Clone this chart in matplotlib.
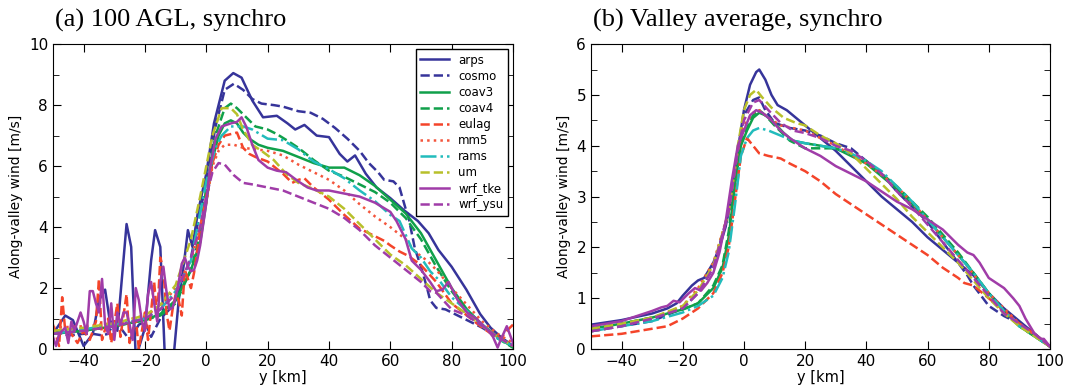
import numpy as np
import matplotlib.pyplot as plt
from matplotlib.ticker import MultipleLocator

models = ['arps', 'cosmo', 'coav3', 'coav4', 'eulag', 'mm5', 'rams', 'um', 'wrf_tke', 'wrf_ysu']
colors = ['#36349a', '#36349a', '#10a04a', '#10a04a', '#f4442a', '#f4553c',
          '#22bcbc', '#b8c02a', '#a03ca8', '#a03ca8']
styles = ['-', '--', '-', '--', '--', ':', '-.', '--', '-', '--']

# panel (a): 100 m AGL
a_x = {
    'arps': [-50, -46, -43.5, -40, -37, -35, -33, -31.5, -29, -26, -24.5, -23, -20, -18, -16.7, -15, -13.5,
             -10.7, -9, -7.3, -6, -4.5, -2.8, 0, 2.5, 6, 8.8, 11.5, 15, 18.5, 23, 26.5, 29, 32, 36, 40, 43.5,
             46, 48.5, 52, 55.5, 60, 64.5, 69, 72.5, 75.7, 80, 84.8, 89.3, 92.7, 96, 100],
    'cosmo': [-50, -45, -40, -37, -34, -32, -30, -28, -25, -22, -20, -18, -15, -12, -10, -5, 0, 3, 6, 9, 12,
              15, 18, 22, 25, 30, 34, 38, 42, 46, 50, 53, 56, 58, 61, 63, 65, 66, 68, 70, 72, 73, 75, 78, 82,
              86, 90, 94, 97, 100],
    'coav3': [-50, -40, -30, -20, -15, -10, -5, -2, 0, 2, 4, 6, 8, 10, 12, 14, 17, 20, 25, 30, 35, 40, 45, 50,
              55, 60, 65, 70, 75, 80, 85, 90, 95, 100],
    'coav4': [-50, -40, -30, -20, -15, -10, -5, -2, 0, 3, 6, 8, 10, 13, 16, 20, 23, 27, 30, 35, 40, 45, 50, 55,
              60, 65, 70, 75, 80, 85, 90, 95, 100],
    'eulag': [-50, -48, -47, -46, -44, -42, -40, -38, -36, -35, -34, -32, -31, -29, -28, -26, -25, -23, -22,
              -20, -19, -17, -16, -15, -14, -13, -12, -11, -10, -9, -8, -7, -6, -5, -4, -3, -2, 0, 2, 4, 6, 8,
              10, 12, 14, 16, 20, 25, 28, 30, 32, 35, 40, 45, 50, 55, 58, 60, 63, 66, 70, 75, 80, 85, 90, 93,
              96, 98, 100],
    'mm5': [-50, -40, -30, -20, -15, -10, -5, 0, 2, 4, 6, 9, 12, 16, 20, 25, 30, 35, 40, 45, 50, 55, 60, 65,
            68, 72, 75, 80, 85, 90, 95, 100],
    'rams': [-50, -40, -30, -20, -15, -10, -5, 0, 3, 5, 8, 12, 15, 20, 25, 30, 35, 40, 45, 50, 55, 60, 63, 67,
             70, 73, 76, 80, 85, 90, 95, 100],
    'um': [-50, -40, -30, -20, -15, -10, -5, -2, 0, 2, 5, 8, 10, 12, 15, 18, 22, 26, 30, 35, 40, 45, 50, 55,
           60, 65, 70, 75, 80, 85, 90, 95, 100],
    'wrf_tke': [-50, -49, -48, -46, -45, -44, -43, -41, -40, -39, -38, -37, -36, -35, -34, -33, -32, -31, -30,
                -29, -28, -27, -26, -25, -24, -23, -22, -21, -20, -19, -18, -17, -16, -15, -14, -13, -12, -11,
                -10, -9, -8, -7, -6, -5, -4, -3, -2, 0, 1, 3, 5, 8, 10, 11.5, 13, 15, 17, 20, 23, 26, 30, 33,
                36, 40, 45, 50, 55, 60, 62, 65, 67, 70, 73, 75, 77, 79, 80, 82, 85, 88, 90, 92, 93.5, 95, 96,
                98, 100],
    'wrf_ysu': [-50, -40, -30, -20, -15, -10, -5, -2, 0, 2, 4, 6, 9, 12, 15, 20, 25, 30, 35, 40, 45, 50, 55,
                60, 65, 70, 73, 75, 80, 85, 90, 95, 100],
}
a_y = {
    'arps': [0.5, 1.1, 0.95, 0.1, 0.5, 1.6, 1.95, 0.95, 0.6, 4.1, 3.35, -0.3, 0.7, 2.9, 3.9, 3.35, -0.3,
             -0.3, 1.6, 2.8, 3.9, 3.35, 4.45, 5.75, 7.4, 8.8, 9.05, 8.9, 8.15, 7.6, 7.65, 7.4, 7.2, 7.35, 7.0,
             6.95, 6.4, 6.15, 6.35, 5.75, 5.3, 4.95, 4.55, 4.2, 3.8, 3.25, 2.7, 1.95, 1.15, 0.7, 0.4, 0.1],
    'cosmo': [0.6, 0.45, 0.5, 0.5, 0.45, 0.5, 0.9, 0.7, 0.3, 0.8, 0.9, 0.4, 1.0, 1.3, 1.6, 3.0, 5.5, 7.3,
              8.5, 8.7, 8.5, 8.2, 8.05, 8.0, 7.95, 7.8, 7.75, 7.55, 7.25, 6.9, 6.5, 6.1, 5.8, 5.55, 5.5, 5.3,
              4.6, 4.3, 3.3, 2.7, 2.0, 1.6, 1.35, 1.3, 1.1, 0.9, 0.7, 0.45, 0.3, 0.1],
    'coav3': [0.5, 0.6, 0.75, 0.95, 1.15, 1.6, 2.6, 3.5, 4.8, 6.2, 7.0, 7.4, 7.5, 7.4, 7.1, 6.9, 6.7, 6.6,
              6.5, 6.3, 6.1, 5.95, 5.95, 5.7, 5.35, 4.9, 4.45, 3.8, 2.9, 2.0, 1.3, 0.8, 0.4, 0.05],
    'coav4': [0.5, 0.6, 0.75, 0.95, 1.1, 1.5, 2.6, 3.8, 5.3, 7.0, 7.9, 8.05, 7.9, 7.6, 7.3, 7.2, 7.05, 6.8,
              6.6, 6.2, 5.85, 5.65, 5.4, 5.15, 4.8, 4.3, 3.6, 2.7, 1.9, 1.25, 0.75, 0.35, 0.05],
    'eulag': [0.8, 0.1, 1.7, 0.6, 0.5, 0.2, 0.6, 0.3, 0.9, 2.3, 0.3, 1.0, 0.2, 1.5, 0.4, 1.8, 0.2, 1.0, 0.0,
              1.2, 0.3, 2.2, 1.0, 3.0, 2.6, 1.2, 0.6, 1.3, 1.8, 1.6, 1.1, 2.6, 2.3, 2.0, 2.5, 3.2, 4.0, 5.0,
              6.1, 6.7, 7.0, 7.05, 7.1, 6.6, 6.4, 6.3, 6.15, 5.75, 5.45, 5.55, 5.6, 5.3, 4.9, 4.4, 3.95, 3.7,
              3.55, 3.4, 3.2, 3.05, 2.75, 2.2, 1.5, 1.1, 0.7, 0.5, 0.35, 0.6, 0.8],
    'mm5': [0.7, 0.75, 0.85, 1.1, 1.4, 2.0, 2.9, 4.8, 6.0, 6.5, 6.7, 6.7, 6.6, 6.55, 6.5, 6.35, 6.05, 5.8,
            5.55, 5.2, 4.75, 4.35, 4.0, 3.6, 3.2, 2.9, 2.6, 2.0, 1.45, 0.9, 0.5, 0.2],
    'rams': [0.5, 0.65, 0.8, 1.0, 1.3, 1.9, 2.9, 5.5, 6.6, 7.0, 7.3, 7.3, 7.2, 6.9, 6.85, 6.55, 6.15, 5.9,
             5.6, 5.2, 4.85, 4.4, 4.2, 3.3, 3.0, 2.55, 2.25, 1.7, 1.25, 0.8, 0.35, 0.1],
    'um': [0.6, 0.7, 0.85, 1.1, 1.45, 2.1, 3.6, 5.0, 6.0, 7.0, 7.9, 7.9, 7.7, 7.2, 6.7, 6.5, 6.2, 5.75, 5.45,
           5.25, 5.0, 4.6, 4.1, 3.6, 3.1, 2.75, 2.3, 1.85, 1.5, 1.15, 0.75, 0.4, 0.1],
    'wrf_tke': [0.4, 0.1, 0.5, 0.7, 0.2, 0.9, 0.6, 1.2, 0.9, 0.5, 1.9, 1.9, 1.5, 1.2, 2.3, 0.8, 0.5, 1.5, 0.3,
                1.2, 0.8, 1.2, 1.2, 0.8, 0.3, 2.0, 1.6, 0.9, 0.6, 1.8, 2.2, 1.5, 0.9, 2.2, 2.7, 1.9, 1.3,
                1.35, 1.7, 2.2, 2.8, 3.0, 2.7, 2.55, 2.6, 2.9, 3.4, 4.8, 5.8, 6.9, 7.3, 7.4, 7.45, 7.6, 7.3,
                6.7, 6.2, 5.95, 5.85, 5.8, 5.5, 5.3, 5.2, 5.2, 5.1, 5.0, 4.8, 4.5, 4.2, 3.6, 2.9, 2.6, 2.2,
                1.9, 1.95, 2.2, 2.0, 1.6, 1.2, 1.0, 0.8, 0.6, 0.4, 0.05, 0.3, 0.75, 0.2],
    'wrf_ysu': [0.5, 0.6, 0.75, 1.0, 1.3, 1.8, 3.0, 4.0, 5.0, 5.8, 6.1, 6.05, 5.7, 5.45, 5.4, 5.3, 5.2, 5.0,
                4.8, 4.6, 4.3, 3.9, 3.4, 3.0, 2.6, 2.2, 1.9, 1.85, 1.3, 1.1, 0.75, 0.4, 0.1],
}

# panel (b): valley average
b_x = {
    'arps': [-50, -40, -30, -25, -22, -20, -17, -15, -13, -10, -8, -6, -4, -2, 0, 2, 4, 5, 7, 9, 11, 14, 17,
             20, 25, 30, 35, 40, 45, 50, 55, 60, 65, 70, 75, 80, 85, 90, 95, 100],
    'cosmo': [-50, -40, -30, -20, -15, -10, -5, -2, 0, 3, 5, 7, 10, 15, 20, 25, 30, 35, 40, 45, 50, 55, 60,
              65, 70, 73, 75, 80, 85, 90, 95, 100],
    'coav3': [-50, -40, -30, -20, -15, -10, -7, -5, -3, -1, 1, 3, 5, 7, 10, 13, 16, 20, 25, 30, 35, 40, 45,
              50, 55, 60, 65, 70, 75, 80, 85, 90, 95, 100],
    'coav4': [-50, -40, -30, -20, -15, -10, -7, -5, -3, -1, 1, 3, 5, 7, 10, 15, 20, 30, 40, 50, 60, 70, 75,
              80, 85, 90, 95, 100],
    'eulag': [-50, -40, -30, -25, -20, -15, -10, -7, -5, -3, -1, 1, 3, 5, 8, 12, 15, 20, 25, 30, 35, 40, 45,
              50, 55, 60, 65, 70, 72, 75, 80, 85, 90, 95, 100],
    'mm5': [-50, -40, -30, -20, -15, -10, -5, -2, 0, 3, 5, 8, 12, 20, 30, 40, 50, 60, 70, 80, 90, 100],
    'rams': [-50, -40, -30, -20, -15, -10, -7, -5, -3, -1, 1, 3, 5, 8, 12, 16, 20, 25, 30, 35, 40, 45, 50,
             55, 60, 65, 70, 75, 80, 85, 90, 95, 100],
    'um': [-50, -40, -30, -20, -15, -10, -5, -2, 0, 2, 4, 6, 9, 13, 17, 20, 25, 30, 35, 40, 45, 50, 55, 60,
           65, 70, 75, 80, 85, 90, 95, 100],
    'wrf_tke': [-50, -40, -35, -30, -27, -25, -23, -21, -18, -16, -14, -12, -10, -8, -6, -4, -2, 0, 2, 4, 6,
                9, 12, 15, 20, 25, 30, 35, 40, 45, 50, 55, 60, 65, 70, 73, 75, 77, 80, 85, 88, 90, 92, 95, 97,
                98, 100],
    'wrf_ysu': [-50, -40, -30, -20, -15, -10, -5, -2, 0, 3, 5, 8, 12, 16, 20, 25, 30, 35, 40, 45, 50, 55, 60,
                65, 70, 75, 80, 85, 90, 95, 100],
}
b_y = {
    'arps': [0.48, 0.57, 0.7, 0.8, 0.9, 1.05, 1.25, 1.35, 1.4, 1.7, 2.0, 2.4, 3.0, 3.9, 4.7, 5.2, 5.45, 5.5,
             5.3, 5.0, 4.8, 4.7, 4.55, 4.4, 4.15, 3.9, 3.6, 3.3, 3.0, 2.75, 2.5, 2.2, 1.95, 1.7, 1.45, 1.1,
             0.8, 0.55, 0.3, 0.05],
    'cosmo': [0.35, 0.45, 0.55, 0.8, 1.1, 1.6, 2.7, 3.9, 4.6, 4.9, 4.95, 4.7, 4.45, 4.35, 4.3, 4.2, 4.05,
              3.95, 3.7, 3.45, 3.1, 2.8, 2.5, 2.1, 1.7, 1.45, 1.25, 0.85, 0.65, 0.5, 0.3, 0.05],
    'coav3': [0.4, 0.5, 0.62, 0.78, 0.9, 1.2, 1.6, 2.2, 3.2, 4.0, 4.3, 4.55, 4.65, 4.6, 4.45, 4.25, 4.1,
              4.05, 4.0, 3.95, 3.8, 3.65, 3.4, 3.15, 2.85, 2.55, 2.2, 1.85, 1.5, 1.1, 0.75, 0.45, 0.25, 0.05],
    'coav4': [0.4, 0.5, 0.62, 0.78, 0.9, 1.25, 1.65, 2.3, 3.3, 4.05, 4.35, 4.6, 4.7, 4.6, 4.4, 4.1, 3.95,
              3.95, 3.7, 3.2, 2.6, 1.9, 1.5, 1.1, 0.75, 0.45, 0.25, 0.05],
    'eulag': [0.25, 0.3, 0.4, 0.45, 0.6, 0.8, 1.1, 1.5, 2.0, 2.9, 3.8, 4.15, 4.0, 3.85, 3.8, 3.75, 3.65, 3.5,
              3.3, 3.05, 2.85, 2.65, 2.45, 2.25, 2.05, 1.85, 1.6, 1.4, 1.3, 1.25, 1.0, 0.75, 0.5, 0.3, 0.05],
    'mm5': [0.35, 0.45, 0.6, 0.85, 1.2, 1.7, 2.7, 3.9, 4.4, 4.65, 4.7, 4.55, 4.4, 4.3, 4.0, 3.65, 3.2, 2.55,
            1.85, 1.1, 0.5, 0.05],
    'rams': [0.35, 0.45, 0.55, 0.72, 0.85, 1.05, 1.4, 1.9, 2.8, 3.8, 4.15, 4.3, 4.35, 4.3, 4.2, 4.1, 4.05,
             4.0, 3.95, 3.85, 3.7, 3.5, 3.2, 2.9, 2.55, 2.2, 1.85, 1.5, 1.1, 0.75, 0.45, 0.25, 0.05],
    'um': [0.4, 0.5, 0.62, 0.85, 1.15, 1.65, 2.7, 4.0, 4.7, 5.0, 5.1, 4.95, 4.75, 4.55, 4.45, 4.4, 4.2, 4.05,
           3.85, 3.55, 3.25, 2.95, 2.6, 2.3, 2.0, 1.7, 1.35, 1.0, 0.7, 0.45, 0.25, 0.05],
    'wrf_tke': [0.45, 0.55, 0.65, 0.75, 0.82, 0.85, 0.95, 0.92, 1.1, 1.2, 1.15, 1.3, 1.5, 1.9, 2.5, 3.3, 4.0,
                4.3, 4.6, 4.7, 4.65, 4.5, 4.3, 4.15, 3.95, 3.8, 3.6, 3.45, 3.3, 3.1, 2.9, 2.75, 2.55, 2.35,
                2.05, 1.9, 1.85, 1.7, 1.4, 1.2, 1.0, 0.85, 0.6, 0.3, 0.2, 0.2, 0.05],
    'wrf_ysu': [0.35, 0.45, 0.6, 0.8, 1.1, 1.6, 2.7, 3.9, 4.5, 4.85, 4.9, 4.7, 4.45, 4.3, 4.25, 4.15, 4.0,
                3.9, 3.7, 3.45, 3.1, 2.8, 2.45, 2.1, 1.75, 1.4, 1.05, 0.7, 0.5, 0.3, 0.05],
}

titles = ['(a) 100 AGL, synchro', '(b) Valley average, synchro']

fig = plt.figure(figsize=(10.68, 3.87), dpi=100)
ax1 = fig.add_axes([0.0496, 0.098, 0.4307, 0.788])
ax2 = fig.add_axes([0.5533, 0.098, 0.4298, 0.788])

for ax, xs, ys, ymax, ystep, title in [(ax1, a_x, a_y, 10, 1, titles[0]), (ax2, b_x, b_y, 6, 0.5, titles[1])]:
    for m, c, ls in zip(models, colors, styles):
        ax.plot(xs[m], ys[m], color=c, linestyle=ls, lw=1.8, label=m)
    ax.set_xlim(-50, 100)
    ax.set_ylim(0, ymax)
    ax.xaxis.set_major_locator(MultipleLocator(20))
    ax.yaxis.set_minor_locator(MultipleLocator(ystep))
    ax.tick_params(direction='in', top=True, right=True, which='both', labelsize=11)
    ax.tick_params(which='major', length=6)
    ax.tick_params(which='minor', length=4)
    ax.set_xlabel('y [km]', fontsize=10.5, labelpad=1)
    ax.set_ylabel('Along-valley wind [m/s]', fontsize=10)
    ax.text(0.005, 1.04, title, transform=ax.transAxes, fontsize=19, family='Liberation Serif', va='bottom')

ax2.yaxis.set_major_locator(MultipleLocator(1))
ax1.yaxis.set_major_locator(MultipleLocator(2))

leg = ax1.legend(loc='upper right', fontsize=8.5, handlelength=2.4, framealpha=1, fancybox=False,
                 edgecolor='black', labelspacing=0.26, borderaxespad=0.4)
leg.get_frame().set_linewidth(1.0)

plt.savefig('out.png', dpi=100)
